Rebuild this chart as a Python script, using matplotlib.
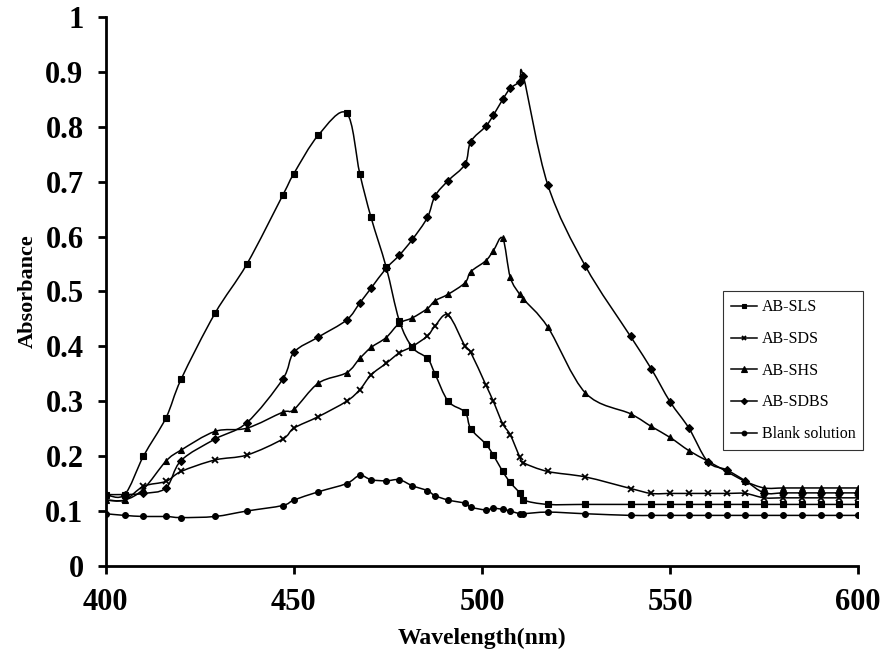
import numpy as np
import matplotlib
matplotlib.use('Agg')
import matplotlib.pyplot as plt
from matplotlib.path import Path
from matplotlib.patches import PathPatch
from matplotlib.lines import Line2D

plt.rcParams['font.family'] = ['Liberation Serif', 'DejaVu Serif']

# wavelengths (nm) shared by all spectra
wl = [400, 405, 410, 416, 420, 429, 437.5, 447, 450, 456.5, 464, 467.5, 470.5,
      474.5, 478, 481.5, 485.5, 487.5, 491, 495.5, 497, 501, 503, 505.5, 507.5,
      510, 511, 517.5, 527.5, 539.5, 545, 550, 555, 560, 565, 570, 575, 580,
      585, 590, 595, 600]

ab_sls = [0.13, 0.13, 0.20, 0.27, 0.34, 0.46, 0.55, 0.675, 0.715, 0.785, 0.825,
          0.715, 0.635, 0.545, 0.447, 0.398, 0.378, 0.35, 0.30, 0.28, 0.25,
          0.222, 0.202, 0.172, 0.152, 0.133, 0.12, 0.112, 0.112, 0.112, 0.112,
          0.112, 0.112, 0.112, 0.112, 0.112, 0.112, 0.112, 0.112, 0.112, 0.112,
          0.112]
ab_sds = [0.12, 0.12, 0.145, 0.154, 0.172, 0.193, 0.202, 0.231, 0.251, 0.272,
          0.30, 0.321, 0.348, 0.369, 0.388, 0.40, 0.419, 0.437, 0.457, 0.40,
          0.389, 0.33, 0.30, 0.259, 0.239, 0.199, 0.188, 0.172, 0.162, 0.141,
          0.132, 0.132, 0.132, 0.132, 0.132, 0.132, 0.124, 0.124, 0.124, 0.124,
          0.124, 0.124]
ab_shs = [0.12, 0.12, 0.14, 0.191, 0.211, 0.245, 0.251, 0.28, 0.285, 0.333,
          0.352, 0.378, 0.398, 0.416, 0.442, 0.452, 0.469, 0.483, 0.495, 0.516,
          0.536, 0.556, 0.574, 0.597, 0.526, 0.495, 0.486, 0.435, 0.315, 0.277,
          0.254, 0.234, 0.21, 0.191, 0.172, 0.154, 0.142, 0.142, 0.142, 0.142,
          0.142, 0.142]
ab_sdbs = [0.13, 0.13, 0.132, 0.142, 0.192, 0.231, 0.261, 0.34, 0.389, 0.417,
           0.448, 0.479, 0.506, 0.542, 0.566, 0.595, 0.635, 0.674, 0.702,
           0.732, 0.773, 0.801, 0.821, 0.85, 0.87, 0.882, 0.892, 0.694, 0.546,
           0.418, 0.359, 0.299, 0.251, 0.19, 0.175, 0.155, 0.133, 0.133, 0.133,
           0.133, 0.133, 0.133]
blank = [0.095, 0.092, 0.09, 0.09, 0.088, 0.09, 0.10, 0.11, 0.12, 0.135, 0.15,
         0.165, 0.157, 0.155, 0.157, 0.146, 0.137, 0.128, 0.12, 0.114, 0.107,
         0.102, 0.105, 0.103, 0.10, 0.095, 0.095, 0.098, 0.095, 0.092, 0.092,
         0.092, 0.092, 0.092, 0.092, 0.092, 0.092, 0.092, 0.092, 0.092, 0.092,
         0.092]

series = [('AB-SLS', ab_sls, 's', 4.2),
          ('AB-SDS', ab_sds, 'x', 4.2),
          ('AB-SHS', ab_shs, '^', 4.8),
          ('AB-SDBS', ab_sdbs, 'D', 4.0),
          ('Blank solution', blank, 'o', 4.2)]


def smooth_path(x, y):
    # excel style smoothed line: catmull-rom segments as cubic beziers
    p = np.column_stack([x, y]).astype(float)
    n = len(p)
    verts = [p[0]]
    codes = [Path.MOVETO]
    for i in range(n - 1):
        p0 = p[i - 1] if i > 0 else p[i]
        p3 = p[i + 2] if i + 2 < n else p[i + 1]
        c1 = p[i] + (p[i + 1] - p0) / 6.0
        c2 = p[i + 1] - (p3 - p[i]) / 6.0
        verts += [c1, c2, p[i + 1]]
        codes += [Path.CURVE4] * 3
    return Path(verts, codes)


fig = plt.figure(figsize=(8.82, 6.58), dpi=100)
ax = fig.add_axes([0.120, 0.140, 0.853, 0.834])

handles = []
for name, vals, mk, ms in series:
    ax.add_patch(PathPatch(smooth_path(wl, vals), fill=False, edgecolor='black', lw=1.1))
    mew = 1.3 if mk == 'x' else 0.8
    ax.plot(wl, vals, linestyle='none', marker=mk, ms=ms, color='black', mew=mew)
    handles.append(Line2D([], [], color='black', lw=1.1, marker=mk, ms=ms * 0.8, mew=mew))

ax.set_xlim(400, 600)
ax.set_ylim(0, 1)
ax.set_xticks([400, 450, 500, 550, 600])
ax.set_yticks(np.arange(0, 1.01, 0.1))
ax.set_yticklabels(['0', '0.1', '0.2', '0.3', '0.4', '0.5', '0.6', '0.7', '0.8', '0.9', '1'])

for s in ['top', 'right']:
    ax.spines[s].set_visible(False)
for s in ['left', 'bottom']:
    ax.spines[s].set_linewidth(2)
ax.tick_params(direction='out', width=2, length=6, labelsize=22)
ax.tick_params(axis='x', pad=10)
ax.tick_params(axis='y', pad=10)
for lab in ax.get_xticklabels() + ax.get_yticklabels():
    lab.set_fontweight('bold')

ax.set_xlabel('Wavelength(nm)', fontsize=17, fontweight='bold')
ax.set_ylabel('Absorbance', fontsize=16, fontweight='bold')
ax.xaxis.set_label_coords(0.5, -0.113)
ax.yaxis.set_label_coords(-0.09, 0.5)

leg = ax.legend(handles, [s[0] for s in series], loc='upper right',
                bbox_to_anchor=(1.007, 0.5), fontsize=11.5, frameon=True,
                fancybox=False, handlelength=1.6, borderpad=0.5, labelspacing=0.98,
                handletextpad=0.3, borderaxespad=0)
leg.get_frame().set_edgecolor('black')
leg.get_frame().set_linewidth(0.8)

fig.savefig('out.png', dpi=100)
